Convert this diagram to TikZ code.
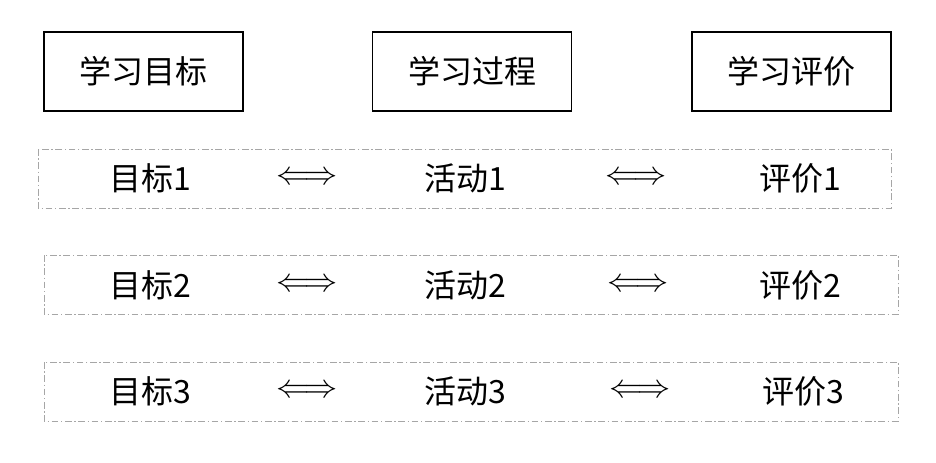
\documentclass[tikz,border=0pt]{standalone}
\usepackage{fontspec}
\setmainfont{Noto Sans CJK SC}
\begin{document}
\begin{tikzpicture}[x=0.75pt,y=-0.75pt,
  head/.style={draw,line width=1pt,minimum width=149.25pt,minimum height=59.25pt,font=\fontsize{24}{28}\selectfont},
  row/.style={draw=gray!70,line width=0.6pt,dash pattern=on 5pt off 2pt on 1pt off 2pt},
  item/.style={font=\fontsize{24}{28}\selectfont},
  link/.style={font=\fontsize{26}{28}\selectfont}]
\useasboundingbox (0,0) rectangle (936,462);
\node[head] (goal) at (143.5,71.5) {学习目标};
\node[head] (proc) at (472,71.5) {学习过程};
\node[head] (eval) at (791.5,71.5) {学习评价};
\draw[row] (38,149) rectangle (891,208);
\draw[row] (44,255) rectangle (898,314);
\draw[row] (44,362) rectangle (898,421);
\foreach \i/\y/\xa/\xb/\xc in {1/178/150/636/800, 2/285/150/638/800, 3/391/150/640/803}{
  \node[item] (g\i) at (\xa,\y) {目标\i};
  \node[link] (l\i) at (307,\y) {$\Longleftrightarrow$};
  \node[item] (a\i) at (465,\y) {活动\i};
  \node[link] (r\i) at (\xb,\y) {$\Longleftrightarrow$};
  \node[item] (e\i) at (\xc,\y) {评价\i};
}
\end{tikzpicture}
\end{document}
